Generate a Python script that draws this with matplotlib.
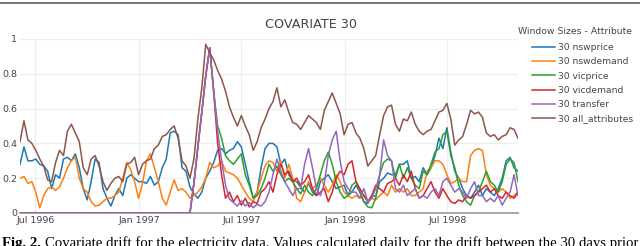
import matplotlib
matplotlib.use('Agg')
import matplotlib.pyplot as plt
import pandas as pd
from matplotlib.lines import Line2D

# ---------------- data (weekly samples) ----------------
start_date = '1996-06-04'
n_points = 127

nswprice = [.28, .38, .30, .30, .31, .28, .27, .24, .14, .22, .20, .31, .32, .30, .34, .26, .14, .075, .18, .31,
            .29, .14, .085, .04, .10, .14, .10, .20, .22, .20, .18, .18, .17, .21, .16, .18, .26, .31, .46, .47,
            .45, .26, .24, .15, .11, .085, .12, .20, .24, .29, .36, .37, .34, .36, .37, .41, .38, .28, .18, .085,
            .12, .26, .37, .40, .40, .38, .28, .31, .22, .19, .18, .15, .12, .17, .12, .10, .18, .20, .22, .18,
            .14, .15, .16, .10, .12, .16, .12, .065, .055, .10, .095, .18, .20, .23, .22, .22, .28, .28, .30, .20,
            .21, .18, .26, .22, .26, .33, .43, .37, .49, .35, .24, .20, .14, .10, .085, .12, .16, .10, .14, .12,
            .10, .14, .20, .30, .32, .26, .24]

nswdemand = [.20, .21, .17, .18, .12, .03, .10, .14, .15, .13, .15, .20, .26, .30, .32, .20, .14, .12, .065, .04,
             .045, .065, .085, .085, .10, .12, .20, .29, .25, .18, .085, .17, .30, .34, .26, .18, .085, .045, .12, .19,
             .13, .14, .12, .085, .10, .12, .15, .20, .29, .26, .27, .30, .24, .23, .22, .20, .16, .12, .085, .065,
             .12, .20, .27, .30, .29, .24, .30, .20, .28, .20, .085, .065, .12, .18, .14, .16, .20, .16, .12, .16,
             .22, .18, .12, .10, .085, .10, .085, .10, .065, .085, .075, .10, .12, .10, .16, .12, .14, .12, .14, .10,
             .10, .12, .14, .24, .26, .30, .30, .28, .22, .17, .18, .20, .18, .18, .33, .36, .37, .36, .22, .16,
             .14, .12, .14, .12, .085, .10, .12]

vicprice = [0] * 44 + [.17, .38, .58, .79, .95, .70, .50, .43, .33, .30, .28, .31, .34, .22, .16, .085,
            .10, .14, .20, .28, .24, .27, .22, .18, .20, .18, .14, .11, .16, .12, .10, .14, .22, .30, .35, .28,
            .18, .12, .085, .10, .16, .18, .12, .065, .035, .03, .085, .22, .29, .31, .30, .20, .28, .20, .26, .20,
            .16, .14, .24, .22, .28, .35, .37, .45, .47, .33, .26, .16, .10, .065, .045, .10, .12, .18, .24, .18,
            .16, .12, .18, .28, .31, .29, .18]

vicdemand = [0] * 44 + [.17, .38, .58, .79, .95, .70, .40, .22, .085, .12, .065, .10, .045, .085, .035, .065,
             .055, .12, .14, .18, .12, .22, .28, .22, .24, .18, .20, .16, .18, .22, .14, .10, .12, .14, .065, .12,
             .20, .24, .22, .28, .30, .18, .14, .10, .065, .10, .16, .14, .12, .17, .18, .20, .16, .22, .18, .24,
             .14, .085, .10, .14, .18, .12, .085, .14, .10, .065, .055, .075, .065, .10, .085, .10, .12, .14, .16, .12,
             .14, .10, .085, .12, .10, .085, .12]

transfer = [0] * 44 + [.17, .38, .58, .79, .95, .70, .47, .30, .16, .08, .06, .04, .07, .04, .06, .03,
            .05, .04, .065, .12, .22, .31, .24, .18, .14, .10, .14, .14, .28, .37, .26, .14, .10, .17, .33, .42,
            .47, .30, .18, .14, .12, .12, .085, .14, .065, .085, .14, .22, .42, .33, .30, .14, .12, .16, .10, .12,
            .14, .085, .10, .085, .12, .14, .10, .18, .20, .16, .12, .14, .12, .085, .14, .18, .10, .10, .065, .085,
            .065, .10, .045, .085, .12, .22, .10]

all_attributes = [.41, .53, .42, .40, .36, .31, .27, .19, .18, .29, .36, .33, .47, .51, .46, .41, .26, .22, .31, .33,
                  .27, .18, .13, .17, .20, .21, .18, .28, .29, .32, .22, .28, .30, .31, .37, .39, .44, .45, .48, .50,
                  .43, .30, .27, .20, .31, .54, .72, .97, .92, .88, .82, .77, .70, .61, .55, .50, .56, .50, .45, .36,
                  .41, .49, .54, .60, .64, .72, .61, .65, .58, .52, .51, .48, .52, .56, .54, .52, .48, .59, .64, .69,
                  .63, .57, .45, .51, .52, .46, .43, .37, .27, .30, .33, .45, .56, .61, .62, .51, .47, .54, .53, .58,
                  .51, .47, .45, .47, .48, .53, .58, .59, .63, .54, .39, .42, .44, .51, .59, .57, .58, .55, .46, .44,
                  .45, .42, .44, .45, .49, .48, .43]

series_names = ['30 nswprice', '30 nswdemand', '30 vicprice', '30 vicdemand', '30 transfer', '30 all_attributes']
series_values = [nswprice, nswdemand, vicprice, vicdemand, transfer, all_attributes]
series_colors = ['#1f77b4', '#ff7f0e', '#2ca02c', '#d62728', '#9467bd', '#8c564b']

x_tick_dates = ['1996-07-01', '1997-01-01', '1997-07-01', '1998-01-01', '1998-07-01']
x_tick_labels = ['Jul 1996', 'Jan 1997', 'Jul 1997', 'Jan 1998', 'Jul 1998']
y_ticks = [0, 0.2, 0.4, 0.6, 0.8, 1.0]
y_tick_labels = ['0', '0.2', '0.4', '0.6', '0.8', '1']

title_text = 'COVARIATE 30'
legend_title = 'Window Sizes - Attribute'
caption_bold = 'Fig. 2.'
caption_text = 'Covariate drift for the electricity data. Values calculated daily for the drift between the 30 days prior'

# ---------------- figure ----------------
dates = pd.date_range(start_date, periods=n_points, freq='7D')

W, H = 640, 246
fig = plt.figure(figsize=(W / 100, H / 100), dpi=100)
fig.patch.set_facecolor('white')
ax = fig.add_axes([20 / W, 33 / H, 498 / W, 174 / H])

for name, vals, col in zip(series_names, series_values, series_colors):
    ax.plot(dates, vals, color=col, lw=1.1, label=name, solid_joinstyle='round', zorder=3)

ax.set_xlim(dates[0], dates[-1])
ax.set_ylim(0, 1.0)
ax.set_xticks(pd.to_datetime(x_tick_dates))
ax.set_xticklabels(x_tick_labels)
ax.set_yticks(y_ticks)
ax.set_yticklabels(y_tick_labels)
ax.grid(True, color='#eeeeee', lw=0.9, zorder=0)
ax.set_axisbelow(True)
for s in ['top', 'right', 'left']:
    ax.spines[s].set_visible(False)
ax.spines['bottom'].set_color('#a0a0a0')
ax.spines['bottom'].set_linewidth(1.3)
ax.spines['bottom'].set_zorder(2)
ax.tick_params(axis='both', length=0, labelsize=6.8, colors='#444444')
ax.tick_params(axis='x', pad=2)
ax.tick_params(axis='y', pad=2)

fig.text(311 / W, 1 - 24 / H, title_text, ha='center', va='center', fontsize=9.2, color='#444444')

# legend: title as text, entries indented below it
fig.text(518 / W, 1 - 31 / H, legend_title, ha='left', va='center', fontsize=6.7, color='#444444')
leg = ax.legend(loc='upper left', bbox_to_anchor=(532 / W, 1 - 43 / H), bbox_transform=fig.transFigure,
                frameon=False, fontsize=6.6,
                handlelength=2.5, handletextpad=0.33, labelspacing=0.58, borderaxespad=0, borderpad=0)
for t in leg.get_texts():
    t.set_color('#444444')

# top border line
fig.add_artist(Line2D([0, 1], [1 - 2.5 / H, 1 - 2.5 / H], transform=fig.transFigure, color='#777777', lw=1.4))

# caption (cut at bottom edge, as in the reference)
r = fig.canvas.get_renderer()
t1 = fig.text(2 / W, -1 / H, caption_bold, ha='left', va='baseline', fontsize=10.6,
              family='Liberation Serif', fontweight='bold', color='black')
bb = t1.get_window_extent(renderer=r)
fig.text((bb.x1 + 4) / W, -1 / H, caption_text, ha='left', va='baseline', fontsize=10.6,
         family='Liberation Serif', color='black')

fig.savefig('out.png', dpi=100)
